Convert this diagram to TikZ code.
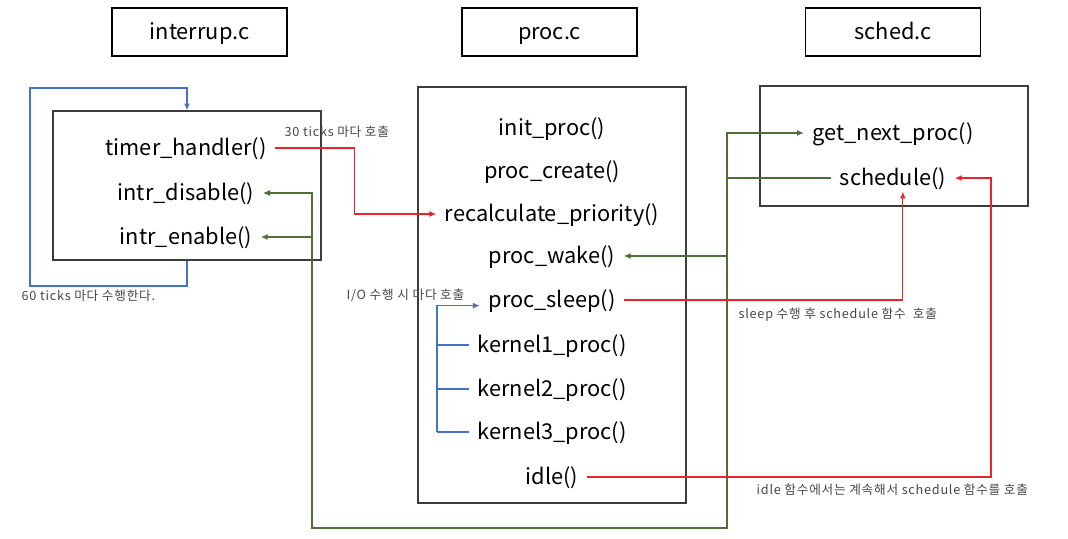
\documentclass[tikz,border=0pt]{standalone}
\usepackage{fontspec}
\setmainfont{Noto Sans CJK KR}
\newfontfamily\notefont{Noto Sans CJK KR}[LetterSpace=6]
\usetikzlibrary{arrows.meta,positioning,calc}
\definecolor{linkblue}{HTML}{4472C4}
\definecolor{callred}{HTML}{E8262A}
\definecolor{wiregreen}{HTML}{4F6F3A}
\definecolor{boxgray}{HTML}{3C3C3C}
\definecolor{notegray}{HTML}{474747}

\begin{document}
\begin{tikzpicture}[x=0.025cm,y=-0.025cm,
  filebox/.style={draw=black,line width=1.3pt,minimum width=4.375cm,minimum height=1.2cm,
    font=\fontsize{15.5}{18}\selectfont,text height=12.5pt,text depth=2.5pt},
  srcbox/.style={draw=boxgray,line width=0.9pt,minimum width=6.7cm},
  fn/.style={font=\fontsize{15.5}{18}\selectfont,inner xsep=6pt,inner ysep=2pt,
    text height=12.5pt,text depth=2.5pt},
  note/.style={font=\notefont\fontsize{9}{10}\selectfont,text=notegray,inner sep=1pt,anchor=west},
  tip/.style={-{Latex[length=1.7mm,width=1.5mm]}},
  bluearr/.style={tip,draw=linkblue,line width=0.85pt},
  blueline/.style={draw=linkblue,line width=0.85pt},
  redarr/.style={tip,draw=callred,line width=0.85pt},
  wirearr/.style={tip,draw=wiregreen,line width=0.85pt},
  wireline/.style={draw=wiregreen,line width=0.85pt}
]
\useasboundingbox (0,0) rectangle (1068,539);
% file titles
\node[filebox] (tInt) at (199.5,32) {interrup.c};
\node[filebox] (tProc) at (549.5,32) {proc.c};
\node[filebox] (tSched) at (893,32) {sched.c};
% source boxes
\node[srcbox,minimum height=3.725cm] (bInt) at (187,185.5) {};
\node[srcbox,minimum height=10.4cm] (bProc) at (552,295) {};
\node[srcbox,minimum height=3.0cm] (bSched) at (894,146) {};
% interrup.c
\node[fn] (th) at (186,148) {timer\_handler()};
\node[fn] (id) at (186,193) {intr\_disable()};
\node[fn] (ie) at (186,237) {intr\_enable()};
% proc.c
\node[fn] (ip) at (552,128) {init\_proc()};
\node[fn] (pc) at (552,171) {proc\_create()};
\node[fn] (rp) at (552,214) {recalculate\_priority()};
\node[fn] (pw) at (552,256) {proc\_wake()};
\node[fn] (ps) at (552,300) {proc\_sleep()};
\node[fn] (k1) at (552,345) {kernel1\_proc()};
\node[fn] (k2) at (552,389) {kernel2\_proc()};
\node[fn] (k3) at (552,432) {kernel3\_proc()};
\node[fn] (idl) at (552,477) {idle()};
% sched.c
\node[fn] (gn) at (893,133) {get\_next\_proc()};
\node[fn] (sc) at (893,178) {schedule()};
% timer loop
\coordinate (loopA) at (30,286);
\coordinate (loopB) at (30,88);
\draw[bluearr] (bInt.south) |- (loopA) -- (loopB) -| (bInt.north);
\node[note] (nLoop) at (20,296) {60 ticks 마다 수행한다.};
% timer -> recalculate
\draw[redarr] (th.east) -- ++(79,0) |- (rp.west);
\node[note] (nTimer) at (283,132) {30 ticks 마다 호출};
% schedule wiring
\coordinate (gR) at (727,528);
\coordinate (gL) at (312,528);
\draw[wirearr] (sc.west) -| (gR) -- (gL) |- (id.east);
\draw[wirearr] (gL |- ie.east) -- (ie.east);
\draw[wirearr] (gR |- pw.east) -- (pw.east);
\draw[wirearr] (gR |- sc.west) |- (gn.west);
% sleep -> schedule
\draw[redarr] (ps.east) -| ([xshift=7pt]sc.south);
\node[note] (nSleep) at (737,315) {sleep 수행 후 schedule 함수 \ 호출};
% idle -> schedule
\draw[redarr] (idl.east) -| ($(sc.east)+(36,0)$) -- (sc.east);
\node[note] (nIdle) at (755,490) {idle 함수에서는 계속해서 schedule 함수를 호출};
% I/O calls
\coordinate (ioL) at (437,0);
\draw[bluearr] (k3.west -| ioL) |- ([yshift=-4pt]ps.west);
\draw[blueline] (ioL |- k1.west) -- (k1.west);
\draw[blueline] (ioL |- k2.west) -- (k2.west);
\draw[blueline] (ioL |- k3.west) -- (k3.west);
\node[note] (nIO) at (345,295) {I/O 수행 시 마다 호출};
\end{tikzpicture}
\end{document}
